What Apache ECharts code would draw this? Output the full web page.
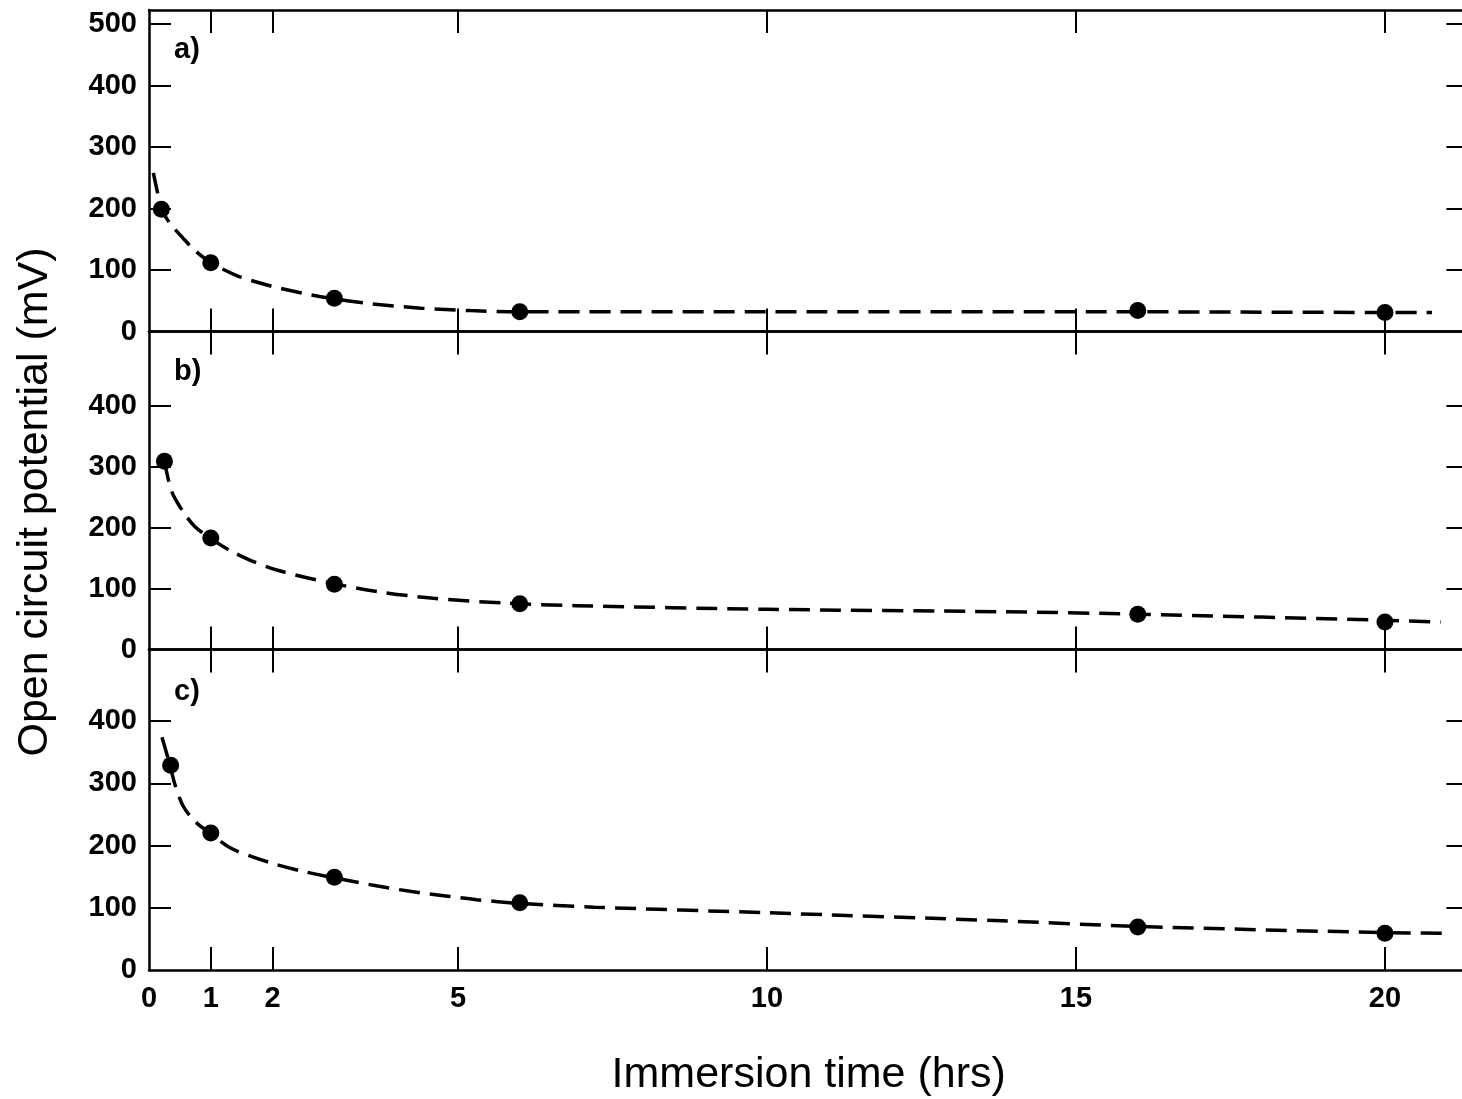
<!DOCTYPE html>
<html>
<head>
<meta charset="utf-8">
<script src="https://cdn.jsdelivr.net/npm/echarts@6/dist/echarts.min.js"></script>
<style>
html,body{margin:0;padding:0;background:#fff;}
#chart{width:1462px;height:1099px;}
</style>
</head>
<body>
<div id="chart"></div>
<script>
// ---- data (time in hours, potential in mV) ----
const xTickValues = [1, 2, 5, 10, 15, 20];
const xLabelValues = [0, 1, 2, 5, 10, 15, 20];
const yTicksA = [100, 200, 300, 400, 500];
const yLabelsA = [0, 100, 200, 300, 400, 500];
const yTicksBC = [100, 200, 300, 400];
const yLabelsBC = [0, 100, 200, 300, 400];

const markerTimeA = [0.2, 1, 3, 6, 16, 20];
const markerMvA = [199, 112, 54, 32, 34, 31];
const curveTimeA = [0.07, 0.14, 0.2, 0.34, 0.55, 0.74, 1, 1.42, 1.97, 2.5, 3, 3.6, 4.4, 5.2, 6, 10, 16, 20, 20.76];
const curveMvA = [258, 225, 199, 176, 152, 132, 112, 91, 74, 62, 53, 45, 38, 34, 32, 32, 32, 31, 31];

const markerTimeB = [0.25, 1, 3, 6, 16, 20];
const markerMvB = [309, 183, 107, 75, 58, 45];
const curveTimeB = [0.25, 0.32, 0.39, 0.56, 0.74, 1, 1.32, 1.65, 2.08, 2.9, 3.7, 4.6, 5.8, 6.9, 10, 13.8, 16, 20, 20.9];
const curveMvB = [309, 276, 254, 225, 202, 182, 162, 146, 130, 110, 95, 84, 76, 72, 66, 62, 58, 48, 45];

const markerTimeC = [0.35, 1, 3, 6, 16, 20];
const markerMvC = [329, 220, 149, 108, 69, 59];
const curveTimeC = [0.21, 0.28, 0.35, 0.42, 0.55, 0.74, 1, 1.32, 1.7, 2.08, 2.47, 3, 3.7, 4.25, 4.8, 5.3, 6, 7.2, 10, 13.8, 16, 20, 20.95];
const curveMvC = [374, 350, 325, 298, 264, 239, 219, 196, 181, 169, 159, 148, 135, 126, 119, 113, 107, 101, 92, 79, 70, 60, 59];

const panelLabels = ['a)', 'b)', 'c)'];
const xTitle = 'Immersion time (hrs)';
const yTitle = 'Open circuit potential (mV)';

// ---- layout ----
const FONT = "'Liberation Sans', Arial, Helvetica, sans-serif";
const LEFT = 149, WIDTH = 1319.4, XMAX = 21.35;
const grids = [
  {left: LEFT, width: WIDTH, top: 10, height: 321.5, outerBoundsMode: 'none'},
  {left: LEFT, width: WIDTH, top: 331.5, height: 318, outerBoundsMode: 'none'},
  {left: LEFT, width: WIDTH, top: 649.5, height: 320.5, outerBoundsMode: 'none'}
];
const yMax = [523, 522, 515];
const black = '#000';
const zip = (a, b) => a.map((v, i) => [v, b[i]]);

const xAxes = [], yAxes = [];
for (let i = 0; i < 3; i++) {
  const isLast = i === 2;
  xAxes.push({
    type: 'value', gridIndex: i, position: 'bottom', min: 0, max: XMAX,
    axisLine: {show: true, onZero: false, lineStyle: {color: black, width: 2.5}},
    axisTick: {show: true, inside: true, length: 23, customValues: xTickValues, lineStyle: {color: black, width: 2}},
    axisLabel: {show: isLast, customValues: xLabelValues, color: black, fontSize: 29, fontWeight: 'bold', fontFamily: FONT, margin: 14},
    splitLine: {show: false},
    name: isLast ? xTitle : '', nameLocation: 'middle', nameGap: 84,
    nameTextStyle: {color: black, fontSize: 43, fontFamily: FONT}
  });
  xAxes.push({
    type: 'value', gridIndex: i, position: 'top', min: 0, max: XMAX,
    axisLine: {show: true, onZero: false, lineStyle: {color: black, width: 2.5}},
    axisTick: {show: true, inside: true, length: 23, customValues: xTickValues, lineStyle: {color: black, width: 2}},
    axisLabel: {show: false},
    splitLine: {show: false}
  });
  const ticks = i === 0 ? yTicksA : yTicksBC;
  const labels = i === 0 ? yLabelsA : yLabelsBC;
  yAxes.push({
    type: 'value', gridIndex: i, position: 'left', min: 0, max: yMax[i],
    axisLine: {show: true, onZero: false, lineStyle: {color: black, width: 2.5}},
    axisTick: {show: true, inside: true, length: 22, customValues: ticks, lineStyle: {color: black, width: 2}},
    axisLabel: {show: true, customValues: labels, color: black, fontSize: 29, fontWeight: 'bold', fontFamily: FONT, margin: 12},
    splitLine: {show: false}
  });
  yAxes.push({
    type: 'value', gridIndex: i, position: 'right', min: 0, max: yMax[i],
    axisLine: {show: false, onZero: false},
    axisTick: {show: true, inside: true, length: 22, customValues: ticks, lineStyle: {color: black, width: 2}},
    axisLabel: {show: false},
    splitLine: {show: false}
  });
}

const curves = [zip(curveTimeA, curveMvA), zip(curveTimeB, curveMvB), zip(curveTimeC, curveMvC)];
const markers = [zip(markerTimeA, markerMvA), zip(markerTimeB, markerMvB), zip(markerTimeC, markerMvC)];
const series = [];
for (let i = 0; i < 3; i++) {
  series.push({
    type: 'line', xAxisIndex: 2 * i, yAxisIndex: 2 * i, data: curves[i],
    showSymbol: false, symbol: 'none', smooth: 0.3,
    lineStyle: {color: black, width: 3.5, type: [21, 10]}, silent: true, z: 2
  });
  series.push({
    type: 'scatter', xAxisIndex: 2 * i, yAxisIndex: 2 * i, data: markers[i],
    symbol: 'circle', symbolSize: 17, itemStyle: {color: black, opacity: 1}, z: 3
  });
}

const graphics = panelLabels.map((t, i) => ({
  type: 'text', left: 174, top: [35, 357, 677][i],
  style: {text: t, fill: black, fontSize: 29, fontWeight: 'bold', fontFamily: FONT}
}));
graphics.push({
  type: 'text', x: 35, y: 502, rotation: Math.PI / 2,
  style: {text: yTitle, fill: black, fontSize: 43, fontFamily: FONT, align: 'center', verticalAlign: 'middle'}
});

const chart = echarts.init(document.getElementById('chart'), null, {renderer: 'canvas'});
chart.setOption({
  backgroundColor: '#fff',
  animation: false,
  grid: grids,
  xAxis: xAxes,
  yAxis: yAxes,
  series: series,
  graphic: graphics
});
</script>
</body>
</html>
